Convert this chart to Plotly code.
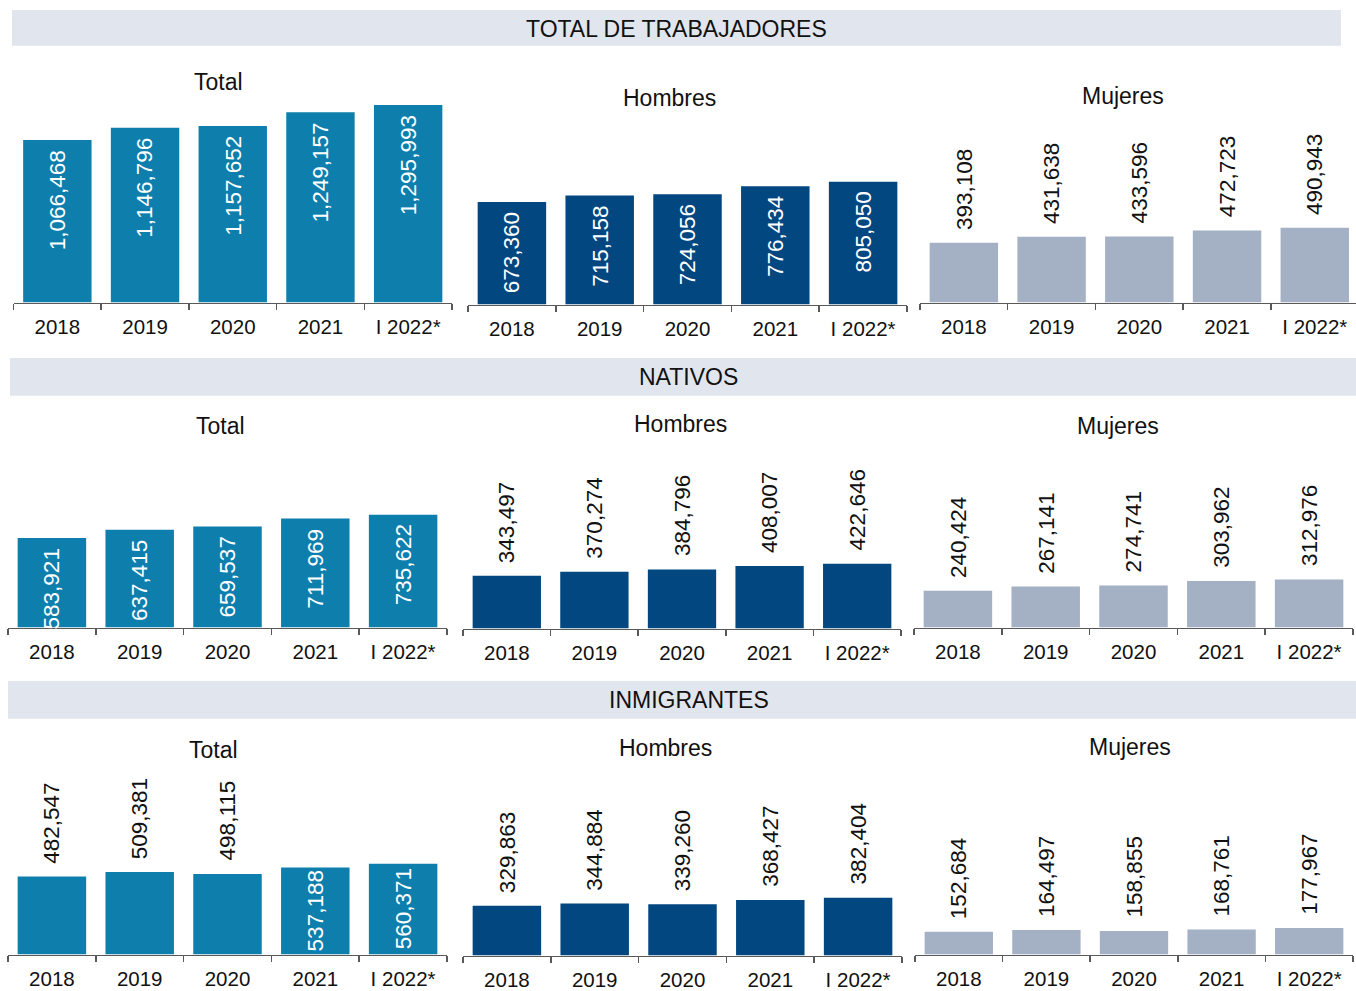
import plotly.graph_objects as go

# ---------------- data ----------------
categories = ["2018", "2019", "2020", "2021", "I 2022*"]

total_trab = [1066468, 1146796, 1157652, 1249157, 1295993]
hombres_trab = [673360, 715158, 724056, 776434, 805050]
mujeres_trab = [393108, 431638, 433596, 472723, 490943]

total_nat = [583921, 637415, 659537, 711969, 735622]
hombres_nat = [343497, 370274, 384796, 408007, 422646]
mujeres_nat = [240424, 267141, 274741, 303962, 312976]

total_inm = [482547, 509381, 498115, 537188, 560371]
hombres_inm = [329863, 344884, 339260, 368427, 382404]
mujeres_inm = [152684, 164497, 158855, 168761, 177967]

section_titles = ["TOTAL DE TRABAJADORES", "NATIVOS", "INMIGRANTES"]
panel_titles = ["Total", "Hombres", "Mujeres"]

# ---------------- style ----------------
W, H = 1356, 991
OX, OY = 0, 0          # page body margin removed via post_script
FONT = "Liberation Sans, Arial, Helvetica, sans-serif"
C_TOTAL = "#0E7FAD"
C_HOM = "#034780"
C_MUJ = "#A4B0C4"
C_BAND = "#E1E5ED"
C_AXIS = "#595959"
C_TEXT = "#111111"
FS_VAL = 22.5
FS_TICK = 20.5
FS_TITLE = 23


def fx(x):
    return (x - OX) / W


def fy(y):
    return 1 - (y - OY) / H


# panel geometry (pixels of the reference)
panels = [
    # row 1
    dict(vals=total_trab, color=C_TOTAL, x0=13.5, x1=452, base=303.5, top=60, scale=6540, lab="in",
         title=panel_titles[0], tx=218, ty=82, xmax=4.5),
    dict(vals=hombres_trab, color=C_HOM, x0=468, x1=907, base=305.5, top=60, scale=6540, lab="in",
         title=panel_titles[1], tx=669, ty=98, xmax=4.5),
    dict(vals=mujeres_trab, color=C_MUJ, x0=920, x1=1356, base=303.5, top=60, scale=6548, lab="out",
         title=panel_titles[2], tx=1123, ty=96, xmax=4.47),
    # row 2
    dict(vals=total_nat, color=C_TOTAL, x0=8, x1=447, base=629.5, top=445, scale=6500, lab="in",
         title=panel_titles[0], tx=220, ty=427, xmax=4.5),
    dict(vals=hombres_nat, color=C_HOM, x0=463, x1=901, base=630.5, top=445, scale=6495, lab="out",
         title=panel_titles[1], tx=681, ty=425, xmax=4.5),
    dict(vals=mujeres_nat, color=C_MUJ, x0=914, x1=1353, base=629.5, top=445, scale=6490, lab="out",
         title=panel_titles[2], tx=1118, ty=427, xmax=4.5),
    # row 3
    dict(vals=total_inm, color=C_TOTAL, x0=8, x1=447, base=957.5, top=775, scale=6155,
         lab=["out", "out", "out", "mid", "mid"],
         title=panel_titles[0], tx=213, ty=752, xmax=4.5),
    dict(vals=hombres_inm, color=C_HOM, x0=463, x1=902, base=958.5, top=775, scale=6595, lab="out",
         title=panel_titles[1], tx=665, ty=750, xmax=4.5),
    dict(vals=mujeres_inm, color=C_MUJ, x0=915, x1=1353, base=957.5, top=775, scale=6690, lab="out",
         title=panel_titles[2], tx=1130, ty=749, xmax=4.5),
]

bands = [
    dict(x0=12, x1=1341, y0=10, y1=46, tx=676, ty=29),
    dict(x0=10, x1=1356, y0=359, y1=397, tx=688, ty=378),
    dict(x0=8, x1=1356, y0=683, y1=721, tx=689, ty=702),
]

fig = go.Figure()
layout = dict(
    width=W, height=H,
    margin=dict(l=0, r=0, t=0, b=0),
    paper_bgcolor="white", plot_bgcolor="rgba(0,0,0,0)",
    showlegend=False, bargap=0.22,
    font=dict(family=FONT, size=FS_TICK, color=C_TEXT),
)
annotations = []
shapes = []

for i, p in enumerate(panels):
    k = "" if i == 0 else str(i + 1)
    labs = p["lab"] if isinstance(p["lab"], list) else [p["lab"]] * len(p["vals"])
    fig.add_trace(go.Bar(
        x=categories, y=p["vals"],
        marker=dict(color=p["color"], line=dict(width=0)),
        xaxis="x" + k, yaxis="y" + k,
        hoverinfo="skip",
    ))
    layout["xaxis" + k] = dict(
        domain=[fx(p["x0"]), min(1, fx(p["x1"]))], anchor="y" + k,
        type="category", range=[-0.5, p["xmax"]],
        showline=True, linecolor=C_AXIS, linewidth=1.5,
        ticks="outside", tickson="boundaries", ticklen=6, tickwidth=1.5, tickcolor=C_AXIS,
        ticklabelstandoff=5,
        showgrid=False, zeroline=False,
        tickfont=dict(family=FONT, size=FS_TICK, color=C_TEXT),
        fixedrange=True,
    )
    layout["yaxis" + k] = dict(
        domain=[fy(p["base"]), fy(p["top"])], anchor="x" + k,
        range=[0, p["scale"] * (p["base"] - p["top"])],
        visible=False, fixedrange=True,
    )
    # value labels, placed in data coordinates of this panel
    for j, (v, lab) in enumerate(zip(p["vals"], labs)):
        if lab == "out":
            yv, ya, ys, col = v, "bottom", 11, C_TEXT
        elif lab == "in":
            yv, ya, ys, col = v, "top", -8, "white"
        else:
            yv, ya, ys, col = v / 2, "middle", 0, "white"
        annotations.append(dict(
            text=f"{v:,}", xref="x" + k, yref="y" + k, x=j, y=yv,
            xanchor="center", yanchor=ya, yshift=ys, textangle=-90,
            showarrow=False, font=dict(family=FONT, size=FS_VAL, color=col),
        ))
    annotations.append(dict(
        text=p["title"], xref="paper", yref="paper", x=fx(p["tx"]), y=fy(p["ty"]),
        xanchor="center", yanchor="middle", showarrow=False,
        font=dict(family=FONT, size=FS_TITLE, color=C_TEXT),
    ))

for b, t in zip(bands, section_titles):
    shapes.append(dict(type="rect", xref="paper", yref="paper", layer="below",
                       x0=fx(b["x0"]), x1=min(1, fx(b["x1"])), y0=fy(b["y1"]), y1=fy(b["y0"]),
                       fillcolor=C_BAND, line=dict(width=0)))
    annotations.append(dict(
        text=t, xref="paper", yref="paper", x=fx(b["tx"]), y=fy(b["ty"]),
        xanchor="center", yanchor="middle", showarrow=False,
        font=dict(family=FONT, size=FS_TITLE, color=C_TEXT),
    ))

layout["annotations"] = annotations
layout["shapes"] = shapes
fig.update_layout(**layout)
fig.write_html(
    "out.html",
    config={"displayModeBar": False, "staticPlot": True},
    post_script="document.body.style.margin='0';document.body.style.overflow='hidden';",
)
